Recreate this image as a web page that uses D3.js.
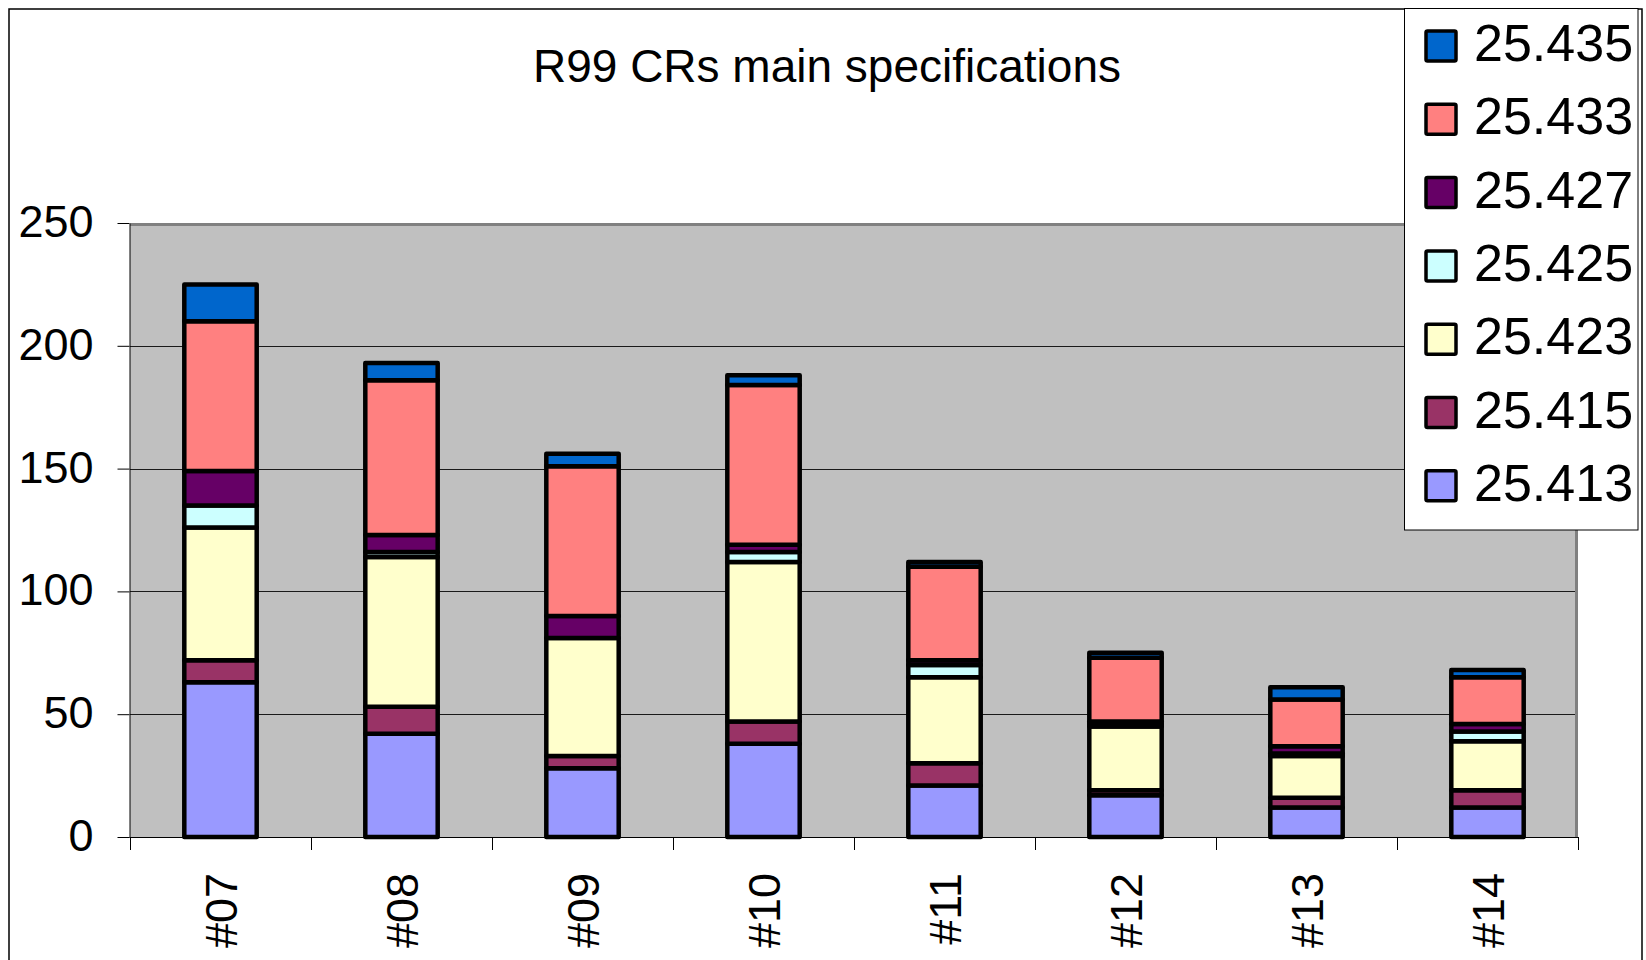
<!DOCTYPE html>
<html>
<head>
<meta charset="utf-8">
<script src="https://cdn.jsdelivr.net/npm/d3@7"></script>
<style>
  body { margin: 0; background: #fff; }
  svg { display: block; font-family: "Liberation Sans", Arial, sans-serif; }
</style>
</head>
<body>
<div id="dataviz"></div>
<script>
// categories (meetings) and one array per spec series, bottom to top
const categories = ["#07", "#08", "#09", "#10", "#11", "#12", "#13", "#14"];
const s25413 = [63, 42, 28, 38, 21, 17, 12, 12];
const s25415 = [9, 11, 5, 9, 9, 2, 4, 7];
const s25423 = [54, 61, 48, 65, 35, 26, 17, 20];
const s25425 = [9, 2, 0, 4, 5, 1, 1, 4];
const s25427 = [14, 7, 9, 3, 2, 1, 3, 3];
const s25433 = [61, 63, 61, 65, 38, 26, 19, 19];
const s25435 = [15, 7, 5, 4, 2, 2, 5, 3];
const seriesNames = ["25.413", "25.415", "25.423", "25.425", "25.427", "25.433", "25.435"];
const seriesColors = ["#9999FF", "#993366", "#FFFFCC", "#CCFFFF", "#660066", "#FF8080", "#0066CC"];
const yTicks = [0, 50, 100, 150, 200, 250];
const title = "R99 CRs main specifications";

const W = 1646, H = 960;
const plot = { left: 130, right: 1578, top: 223, bottom: 837 };

const svg = d3.select("#dataviz").append("svg")
    .attr("width", W)
    .attr("height", H);

// outer chart border
svg.append("rect")
    .attr("x", 9).attr("y", 9)
    .attr("width", 1633).attr("height", 1000)
    .attr("fill", "#fff")
    .attr("stroke", "#000")
    .attr("stroke-width", 1.5);

// build rows for the stack
const allSeries = [s25413, s25415, s25423, s25425, s25427, s25433, s25435];
const rows = categories.map((c, i) => {
    const r = { cat: c };
    seriesNames.forEach((n, k) => { r[n] = allSeries[k][i]; });
    return r;
});
const stacked = d3.stack().keys(seriesNames)(rows);

const x = d3.scaleBand()
    .domain(categories)
    .range([plot.left, plot.right])
    .paddingInner(0.6)
    .paddingOuter(0.3);

const y = d3.scaleLinear()
    .domain([0, 250])
    .range([plot.bottom, plot.top]);

// plot area
svg.append("rect")
    .attr("x", plot.left).attr("y", plot.top)
    .attr("width", plot.right - plot.left)
    .attr("height", plot.bottom - plot.top)
    .attr("fill", "#C0C0C0");

// gridlines
svg.append("g")
    .selectAll("line")
    .data(yTicks.filter(d => d > 0 && d < 250))
    .join("line")
    .attr("x1", plot.left).attr("x2", plot.right)
    .attr("y1", d => Math.round(y(d)) + 0.5)
    .attr("y2", d => Math.round(y(d)) + 0.5)
    .attr("stroke", "#1a1a1a")
    .attr("stroke-width", 1);

// gray frame on top and right of the plot area
svg.append("path")
    .attr("d", `M${plot.left},${plot.top + 1.5}H${plot.right - 1.5}V${plot.bottom}`)
    .attr("fill", "none")
    .attr("stroke", "#808080")
    .attr("stroke-width", 3);

// bars
svg.append("g")
    .selectAll("g")
    .data(stacked)
    .join("g")
    .attr("fill", (d, i) => seriesColors[i])
    .selectAll("rect")
    .data(d => d)
    .join("rect")
    .attr("x", d => x(d.data.cat))
    .attr("y", d => y(d[1]))
    .attr("width", x.bandwidth())
    .attr("height", d => y(d[0]) - y(d[1]))
    .attr("stroke", "#000")
    .attr("stroke-width", 4.5)
    .attr("stroke-linejoin", "round");

// y axis
const yAxis = svg.append("g")
    .attr("transform", `translate(${plot.left - 0.5},0)`)
    .call(d3.axisLeft(y).tickValues(yTicks).tickSize(12).tickPadding(24).tickSizeOuter(0));
yAxis.select(".domain").attr("stroke", "#000");
yAxis.selectAll(".tick line").attr("stroke", "#000");
yAxis.selectAll(".tick text")
    .attr("font-size", 45)
    .attr("font-family", "Liberation Sans, Arial, sans-serif")
    .attr("fill", "#000")
    .attr("dy", "0.3em");

// x axis line and category boundary ticks
const step = x.step();
const bounds = categories.map(c => x(c) - step * 0.3).concat([plot.right]);
svg.append("line")
    .attr("x1", plot.left - 0.5).attr("x2", plot.right)
    .attr("y1", plot.bottom + 0.5).attr("y2", plot.bottom + 0.5)
    .attr("stroke", "#000").attr("stroke-width", 1);
svg.append("g")
    .selectAll("line")
    .data(bounds)
    .join("line")
    .attr("x1", d => Math.round(d) + 0.5).attr("x2", d => Math.round(d) + 0.5)
    .attr("y1", plot.bottom).attr("y2", plot.bottom + 13)
    .attr("stroke", "#000");

// rotated category labels
svg.append("g")
    .selectAll("text")
    .data(categories)
    .join("text")
    .attr("transform", d => `translate(${x(d) + x.bandwidth() / 2 + 16},${plot.bottom + 36}) rotate(-90)`)
    .attr("text-anchor", "end")
    .attr("font-size", 45)
    .attr("fill", "#000")
    .text(d => d);

// title
svg.append("text")
    .attr("x", 827).attr("y", 82)
    .attr("text-anchor", "middle")
    .attr("font-size", 46)
    .attr("fill", "#000")
    .text(title);

// legend (top series first)
const legend = svg.append("g");
legend.append("rect")
    .attr("x", 1404.5).attr("y", 8.5)
    .attr("width", 233.5).attr("height", 521.5)
    .attr("fill", "#fff")
    .attr("stroke", "#000")
    .attr("stroke-width", 1);
const legendItems = seriesNames.map((n, i) => ({ name: n, color: seriesColors[i] })).reverse();
const li = legend.selectAll("g.item")
    .data(legendItems)
    .join("g")
    .attr("class", "item")
    .attr("transform", (d, i) => `translate(0,${46 + i * 73.3})`);
li.append("rect")
    .attr("x", 1426).attr("y", -15)
    .attr("width", 30).attr("height", 30)
    .attr("fill", d => d.color)
    .attr("stroke", "#000")
    .attr("stroke-width", 3.5)
    .attr("rx", 1.5);
li.append("text")
    .attr("x", 1474).attr("y", 15)
    .attr("font-size", 52)
    .attr("fill", "#000")
    .text(d => d.name);
</script>
</body>
</html>
